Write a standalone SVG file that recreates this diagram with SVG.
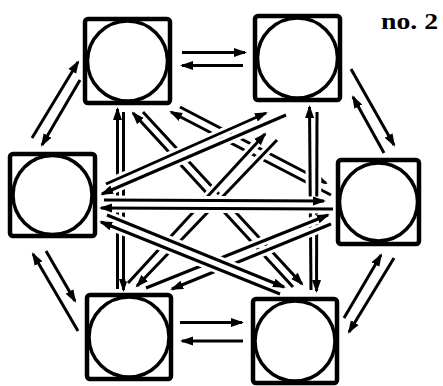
<svg xmlns="http://www.w3.org/2000/svg" width="443" height="386" viewBox="0 0 443 386">
<style>
.nd rect{fill:#fff;stroke:#000;stroke-width:4.5}
.nd circle{fill:#fff;stroke:#000;stroke-width:3.5}
.cs{stroke:#fff;stroke-width:9;fill:none}
.ln{stroke:#000;stroke-width:3;fill:none;marker-end:url(#ah)}
.lbl{font-family:"Liberation Serif","DejaVu Serif",serif;font-weight:bold;font-size:24px;fill:#000}
</style>
<defs>
<marker id="ah" markerUnits="userSpaceOnUse" markerWidth="14" markerHeight="12" viewBox="0 0 14 12" refX="11" refY="6" orient="auto">
<path d="M0,1.5 L13,6 L0,10.5 Z" fill="#000"/>
</marker>
</defs>
<rect width="443" height="386" fill="#fff"/>
<g id="connectors">
<g id="e-AB"><line class="ln" x1="182" y1="52.5" x2="245" y2="52.5"/><line class="ln" x1="243" y1="65.5" x2="182" y2="65.5"/></g>
<g id="e-BD"><line class="ln" x1="351" y1="69" x2="394" y2="145"/><line class="ln" x1="384" y1="153" x2="353" y2="97"/></g>
<g id="e-DF"><line class="ln" x1="394" y1="258" x2="349" y2="332"/><line class="ln" x1="344" y1="318" x2="381" y2="255"/></g>
<g id="e-FE"><line class="ln" x1="243" y1="341" x2="182" y2="341"/><line class="ln" x1="180" y1="322.5" x2="242" y2="322.5"/></g>
<g id="e-EC"><line class="ln" x1="78" y1="331" x2="33" y2="254"/><line class="ln" x1="46" y1="251" x2="75" y2="301"/></g>
<g id="e-CA"><line class="ln" x1="32" y1="138" x2="78" y2="62"/><line class="ln" x1="80" y1="80" x2="42" y2="145"/></g>
<g id="e-AF">
<line class="cs" x1="143" y1="112" x2="302" y2="284"/><line class="cs" x1="293" y1="287" x2="133" y2="113"/>
<line class="ln" x1="143" y1="112" x2="302" y2="284"/><line class="ln" x1="293" y1="287" x2="133" y2="113"/>
</g>
<g id="e-AD">
<line class="cs" x1="180" y1="107" x2="326" y2="183"/><line class="cs" x1="331" y1="195" x2="171" y2="112"/>
<line class="ln" x1="180" y1="107" x2="326" y2="183"/><line class="ln" x1="331" y1="195" x2="171" y2="112"/>
</g>
<g id="e-AE">
<line class="cs" x1="117.5" y1="289" x2="117.5" y2="109"/><line class="cs" x1="123.5" y1="112" x2="123.5" y2="290"/>
<line class="ln" x1="117.5" y1="289" x2="117.5" y2="109"/><line class="ln" x1="123.5" y1="112" x2="123.5" y2="290"/>
</g>
<g id="e-BF">
<line class="cs" x1="311" y1="290" x2="309.5" y2="107"/><line class="cs" x1="317" y1="112" x2="316.5" y2="291"/>
<line class="ln" x1="311" y1="290" x2="309.5" y2="107"/><line class="ln" x1="317" y1="112" x2="316.5" y2="291"/>
</g>
<g id="e-EB">
<line class="cs" x1="128" y1="283" x2="265" y2="134"/><line class="cs" x1="277" y1="140" x2="137" y2="286"/>
<line class="ln" x1="128" y1="283" x2="265" y2="134"/><line class="ln" x1="277" y1="140" x2="137" y2="286"/>
</g>
<g id="e-ED">
<line class="cs" x1="146" y1="288" x2="328" y2="215"/><line class="cs" x1="331" y1="224" x2="172" y2="289"/>
<line class="ln" x1="146" y1="288" x2="328" y2="215"/><line class="ln" x1="331" y1="224" x2="172" y2="289"/>
</g>
<g id="e-CF">
<line class="cs" x1="107" y1="215" x2="284" y2="287"/><line class="cs" x1="280" y1="294" x2="101" y2="222"/>
<line class="ln" x1="107" y1="215" x2="284" y2="287"/><line class="ln" x1="280" y1="294" x2="101" y2="222"/>
</g>
<g id="e-CB">
<line class="cs" x1="106" y1="184" x2="266" y2="113"/><line class="cs" x1="286" y1="115" x2="102" y2="194"/>
<line class="ln" x1="106" y1="184" x2="266" y2="113"/><line class="ln" x1="286" y1="115" x2="102" y2="194"/>
</g>
<g id="e-CD">
<line class="cs" x1="104" y1="200" x2="324" y2="201"/><line class="cs" x1="333" y1="209" x2="101" y2="208"/>
<line class="ln" x1="104" y1="200" x2="324" y2="201"/><line class="ln" x1="333" y1="209" x2="101" y2="208"/>
</g>
</g>
<g id="node-A" class="nd"><rect x="85" y="19" width="85" height="84" rx="3"/><circle cx="127.5" cy="61" r="40"/></g>
<g id="node-B" class="nd"><rect x="255" y="16" width="85" height="84" rx="3"/><circle cx="297.5" cy="58" r="40"/></g>
<g id="node-C" class="nd"><rect x="10" y="154" width="85" height="82" rx="3"/><circle cx="52.5" cy="195" r="39.5"/></g>
<g id="node-D" class="nd"><rect x="338" y="160" width="81" height="84" rx="3"/><circle cx="378.5" cy="202" r="39"/></g>
<g id="node-E" class="nd"><rect x="87" y="295" width="84" height="84" rx="3"/><circle cx="129" cy="337" r="40"/></g>
<g id="node-F" class="nd"><rect x="253" y="299" width="84" height="84" rx="3"/><circle cx="295" cy="341" r="40"/></g>
<text class="lbl" x="381" y="29" textLength="57" lengthAdjust="spacingAndGlyphs">no. 2</text>
</svg>
